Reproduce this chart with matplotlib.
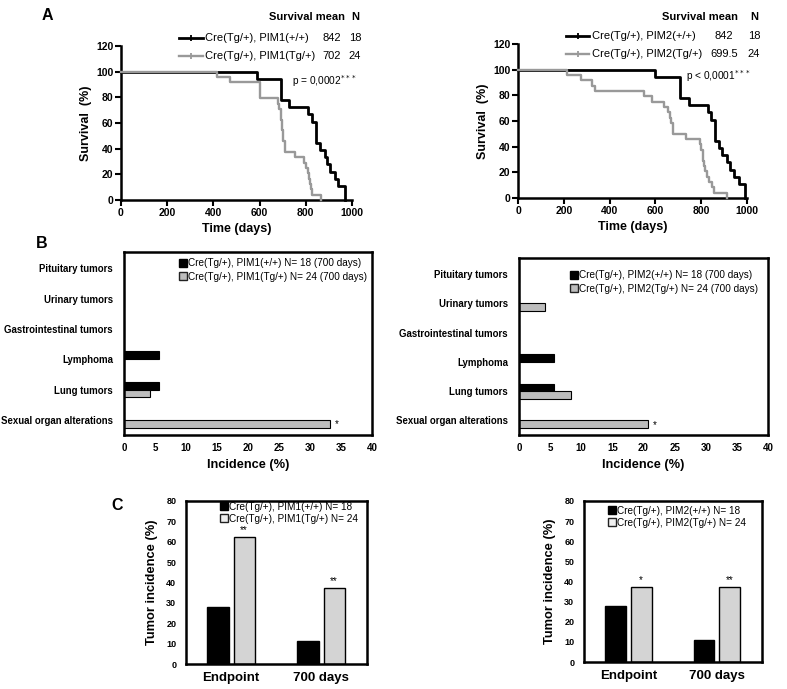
import numpy as np
import matplotlib
matplotlib.use('Agg')
import matplotlib.pyplot as plt
from matplotlib.lines import Line2D

plt.rcParams['font.family'] = ['Liberation Sans', 'DejaVu Sans']

W, H = 787, 689

## A: Kaplan-Meier steps (days, % surviving)
pim1_ctrl_t = [0, 588, 692, 728, 808, 827, 845, 863, 881, 893, 906, 928, 939, 971]
pim1_ctrl_s = [100, 94.4, 77.8, 72.2, 66.7, 61.1, 44.4, 38.9, 33.3, 27.8, 22.2, 16.7, 11.1, 0]
pim1_tg_t = [0, 415, 470, 600, 679, 684, 692, 697, 702, 708, 754, 793, 801, 809, 813, 817, 821, 827, 866]
pim1_tg_s = [100, 95.8, 91.7, 79.2, 75.0, 70.8, 62.5, 54.2, 45.8, 37.5, 33.3, 29.2, 25.0, 20.8, 16.7, 12.5, 8.3, 4.2, 0]

pim2_ctrl_t = [0, 598, 708, 747, 829, 844, 861, 876, 890, 912, 927, 945, 963, 990]
pim2_ctrl_s = [100, 94.4, 77.8, 72.2, 66.7, 61.1, 44.4, 38.9, 33.3, 27.8, 22.2, 16.7, 11.1, 0]
pim2_tg_t = [0, 215, 273, 321, 336, 550, 584, 639, 654, 662, 668, 675, 679, 734, 796, 800, 806, 812, 818, 825, 833, 847, 858, 912]
pim2_tg_s = [100, 95.8, 91.7, 87.5, 83.3, 79.2, 75.0, 70.8, 66.7, 62.5, 58.3, 54.2, 50.0, 45.8, 41.7, 37.5, 29.2, 25.0, 20.8, 16.7, 12.5, 8.3, 4.2, 0]

surv_labels_1 = ['Cre(Tg/+), PIM1(+/+)', 'Cre(Tg/+), PIM1(Tg/+)']
surv_labels_2 = ['Cre(Tg/+), PIM2(+/+)', 'Cre(Tg/+), PIM2(Tg/+)']
surv_means_1 = ['842', '702']
surv_means_2 = ['842', '699.5']
surv_n = ['18', '24']

## B: incidence at 700 days (%)
tumor_types = ['Pituitary tumors', 'Urinary tumors', 'Gastrointestinal tumors',
               'Lymphoma', 'Lung tumors', 'Sexual organ alterations']
inc_pim1_ctrl = [0, 0, 0, 5.6, 5.6, 0]
inc_pim1_tg = [0, 0, 0, 0, 4.2, 33.3]
inc_pim2_ctrl = [0, 0, 0, 5.6, 5.6, 0]
inc_pim2_tg = [0, 4.2, 0, 0, 8.3, 20.8]
inc_labels_1 = ['Cre(Tg/+), PIM1(+/+) N= 18 (700 days)', 'Cre(Tg/+), PIM1(Tg/+) N= 24 (700 days)']
inc_labels_2 = ['Cre(Tg/+), PIM2(+/+) N= 18 (700 days)', 'Cre(Tg/+), PIM2(Tg/+) N= 24 (700 days)']

## C: tumor incidence (%)
groups = ['Endpoint', '700 days']
tum_pim1_ctrl = [27.8, 11.1]
tum_pim1_tg = [62.5, 37.5]
tum_pim2_ctrl = [27.8, 11.1]
tum_pim2_tg = [37.5, 37.5]
stars_pim1 = ['**', '**']
stars_pim2 = ['*', '**']
tum_labels_1 = ['Cre(Tg/+), PIM1(+/+) N= 18', 'Cre(Tg/+), PIM1(Tg/+) N= 24']
tum_labels_2 = ['Cre(Tg/+), PIM2(+/+) N= 18', 'Cre(Tg/+), PIM2(Tg/+) N= 24']

GRAY_LINE = '#999999'
GRAY_B = '#bdbdbd'
GRAY_C = '#d4d4d4'


def px_axes(fig, left, top, right, bottom):
    return fig.add_axes([left / W, 1 - bottom / H, (right - left) / W, (bottom - top) / H])


def bold_ticks(ax):
    for t in ax.get_xticklabels() + ax.get_yticklabels():
        t.set_fontweight('bold')


def survival(fig, box, ctrl, tg, labels, means, p_txt, p_pos, leg):
    ax = px_axes(fig, *box)
    ax.step(ctrl[0], ctrl[1], where='post', color='black', lw=2.0, clip_on=False, zorder=2)
    ax.step(tg[0], tg[1], where='post', color=GRAY_LINE, lw=1.7, clip_on=False, zorder=3)
    ax.set_xlim(0, 1000)
    ax.set_ylim(0, 120)
    ax.set_xticks(range(0, 1001, 200))
    ax.set_yticks(range(0, 121, 20))
    for s in ['top', 'right']:
        ax.spines[s].set_visible(False)
    for s in ['left', 'bottom']:
        ax.spines[s].set_linewidth(1.8)
    ax.tick_params(direction='out', length=4, width=1.5, labelsize=7.5, pad=1.5)
    bold_ticks(ax)
    ax.set_xlabel('Time (days)', fontweight='bold', fontsize=9, labelpad=4)
    ax.set_ylabel('Survival  (%)', fontweight='bold', fontsize=9, labelpad=3)
    ax.text(p_pos[0], p_pos[1], p_txt, transform=ax.transAxes, ha='right', va='center', fontsize=7.3)

    # legend table above the plot
    x0, x1, xt, xm, xn, hx, hy, rows = leg
    fig.text(hx / W, 1 - hy / H, 'Survival mean', ha='right', va='center', fontweight='bold', fontsize=8)
    fig.text(xn / W, 1 - hy / H, 'N', ha='center', va='center', fontweight='bold', fontsize=8)
    for lab, mean, n, col, lw, ry in zip(labels, means, surv_n, ['black', GRAY_LINE], [2.0, 1.7], rows):
        yy = 1 - ry / H
        fig.add_artist(Line2D([x0 / W, (x0 + x1) / 2 / W, x1 / W], [yy, yy, yy], color=col, lw=lw,
                              marker='|', markevery=[1], markersize=5, mew=1.3))
        fig.text(xt / W, yy, lab, ha='left', va='center', fontsize=8)
        fig.text(xm / W, yy, mean, ha='center', va='center', fontsize=8)
        fig.text(xn / W, yy, n, ha='center', va='center', fontsize=8)


def incidence(fig, box, ctrl, tg, labels, ylim, leg_anchor):
    ax = px_axes(fig, *box)
    y = np.arange(len(tumor_types))
    ax.barh(y - 0.13, ctrl, height=0.26, color='black', edgecolor='black', lw=0.8)
    ax.barh(y + 0.13, tg, height=0.26, color=GRAY_B, edgecolor='black', lw=0.8)
    star_i = int(np.argmax(tg))
    ax.text(tg[star_i] + 0.7, star_i + 0.15, '*', ha='left', va='center', fontsize=7)
    ax.set_xlim(0, 40)
    ax.set_ylim(*ylim)
    ax.set_xticks(range(0, 41, 5))
    ax.set_yticks(y, tumor_types)
    ax.tick_params(axis='x', length=0, labelsize=7, pad=6)
    ax.tick_params(axis='y', length=0, labelsize=6.9, pad=8)
    bold_ticks(ax)
    for s in ax.spines.values():
        s.set_linewidth(1.8)
    ax.set_xlabel('Incidence (%)', fontweight='bold', fontsize=9.2, labelpad=4)
    handles = [Line2D([], [], ls='none', marker='s', markersize=5.5, mfc='black', mec='black'),
               Line2D([], [], ls='none', marker='s', markersize=5.5, mfc=GRAY_B, mec='#222222', mew=1)]
    ax.legend(handles, labels, loc='upper right', bbox_to_anchor=leg_anchor, frameon=False,
              fontsize=7.2, handlelength=0.6, handletextpad=0.2, labelspacing=0.35,
              borderpad=0, borderaxespad=0)


def tumor(fig, box, ctrl, tg, stars, labels, leg_anchor):
    ax = px_axes(fig, *box)
    x = np.arange(len(groups))
    ax.bar(x - 0.145, ctrl, 0.235, color='black', edgecolor='black', lw=1)
    ax.bar(x + 0.145, tg, 0.235, color=GRAY_C, edgecolor='black', lw=1)
    for xi, v, s in zip(x, tg, stars):
        ax.annotate(s, (xi + 0.145, v), xytext=(0, 1), textcoords='offset points',
                    ha='center', va='bottom', fontsize=7)
    ax.set_xlim(-0.5, 1.51)
    ax.set_ylim(0, 80)
    ax.set_yticks(range(0, 81, 10))
    ax.set_xticks(x, groups)
    ax.tick_params(axis='y', length=0, labelsize=6.5, pad=7)
    ax.tick_params(axis='x', length=0, labelsize=9.5, pad=6)
    bold_ticks(ax)
    for s in ax.spines.values():
        s.set_linewidth(1.8)
    ax.set_ylabel('Tumor incidence (%)', fontweight='bold', fontsize=9.3, labelpad=6)
    handles = [Line2D([], [], ls='none', marker='s', markersize=5.5, mfc='black', mec='black'),
               Line2D([], [], ls='none', marker='s', markersize=5.5, mfc='#f0f0f0', mec='#222222', mew=1)]
    ax.legend(handles, labels, loc='upper right', bbox_to_anchor=leg_anchor, frameon=False,
              fontsize=7.2, handlelength=0.6, handletextpad=0.2, labelspacing=0.2,
              borderpad=0, borderaxespad=0)


fig = plt.figure(figsize=(W / 100, H / 100), dpi=100)

survival(fig, (121, 46, 352, 200), (pim1_ctrl_t, pim1_ctrl_s), (pim1_tg_t, pim1_tg_s),
         surv_labels_1, surv_means_1, 'p = 0,0002$^{***}$', (1.02, 0.77),
         (179, 203, 205, 332, 355, 345, 17, [38, 56]))
survival(fig, (518, 44, 747, 198), (pim2_ctrl_t, pim2_ctrl_s), (pim2_tg_t, pim2_tg_s),
         surv_labels_2, surv_means_2, 'p < 0,0001$^{***}$', (1.015, 0.79),
         (566, 589, 592, 724, 754, 738, 17, [36, 54]))

incidence(fig, (124, 252, 372, 435), inc_pim1_ctrl, inc_pim1_tg, inc_labels_1, (5.5, -0.54), (0.98, 0.965))
incidence(fig, (519, 258, 768, 435), inc_pim2_ctrl, inc_pim2_tg, inc_labels_2, (5.5, -0.55), (0.96, 0.93))

tumor(fig, (186, 501, 367, 664), tum_pim1_ctrl, tum_pim1_tg, stars_pim1, tum_labels_1, (0.95, 0.995))
tumor(fig, (584, 501, 762, 662), tum_pim2_ctrl, tum_pim2_tg, stars_pim2, tum_labels_2, (0.91, 0.97))

fig.text(47 / W, 1 - 16 / H, 'A', fontsize=11.5, fontweight='bold', ha='center', va='center')
fig.text(42 / W, 1 - 243 / H, 'B', fontsize=11.5, fontweight='bold', ha='center', va='center')
fig.text(117 / W, 1 - 506 / H, 'C', fontsize=11.5, fontweight='bold', ha='center', va='center')

fig.savefig('out.png', dpi=100, facecolor='white')
